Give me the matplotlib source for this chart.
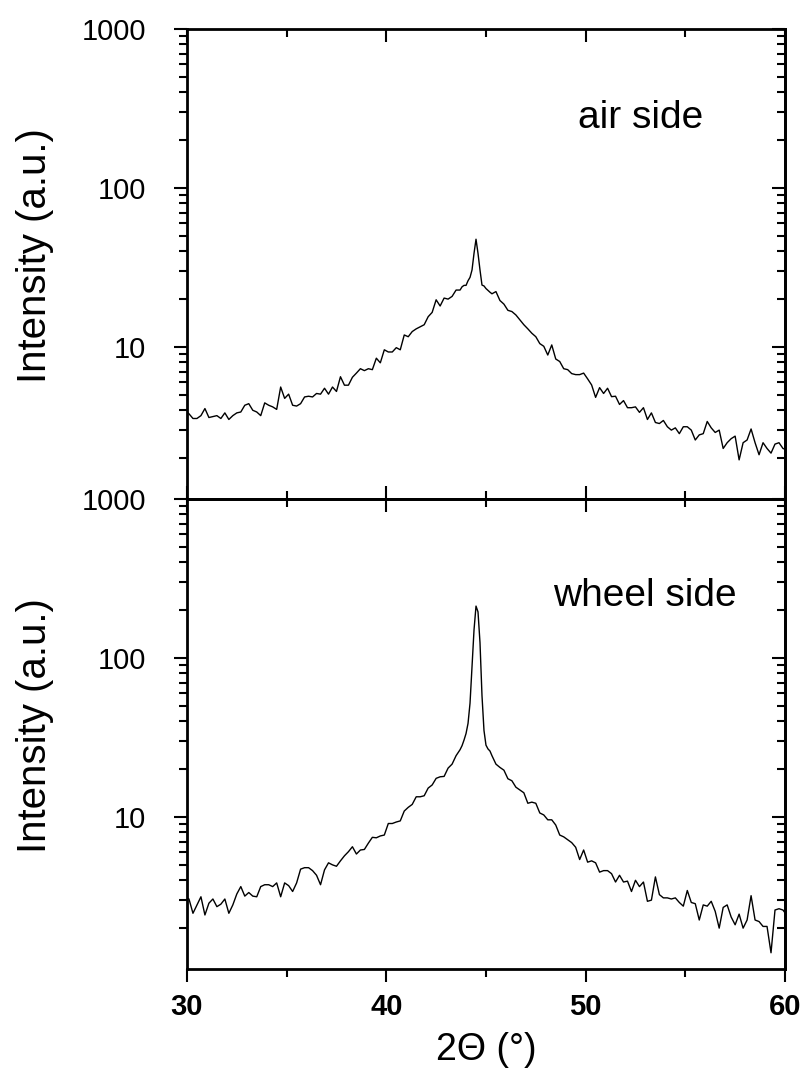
import numpy as np
import matplotlib
matplotlib.use('Agg')
import matplotlib.pyplot as plt
from matplotlib.ticker import LogLocator, MultipleLocator, NullFormatter

plt.rcParams['font.family'] = ['Liberation Sans', 'DejaVu Sans']

# 2-theta grid: 0.2 deg steps, 0.1 deg steps across the (110) peak
theta_lo = np.round(np.arange(29.9, 43.8, 0.2), 1)
theta_pk = np.round(np.arange(43.8, 45.25, 0.1), 1)
theta_hi = np.round(np.arange(45.3, 60.2, 0.2), 1)
two_theta = np.concatenate([theta_lo, theta_pk, theta_hi])

# air side intensities
air_lo = [4.0, 3.8, 3.55, 3.55, 3.7, 4.1, 3.6, 3.65, 3.7, 3.55, 3.85,
          3.5, 3.7, 3.85, 3.9, 4.3, 4.4, 4.0, 3.9, 3.7, 4.45,
          4.3, 4.2, 4.05, 5.6, 4.75, 5.05, 4.3, 4.25, 4.4, 4.85,
          4.9, 4.85, 5.1, 5.05, 5.5, 5.05, 5.6, 5.25, 6.5, 5.75,
          5.75, 6.45, 6.85, 7.3, 7.1, 7.3, 7.2, 8.5, 7.95, 9.6,
          9.3, 9.3, 9.9, 9.6, 11.9, 11.6, 12.5, 13.0, 13.4, 13.8,
          15.5, 16.5, 19.8, 18.1, 20.3, 20.0, 20.8, 22.8, 22.8]
air_pk = [23.9, 24.4, 24.4, 26.1, 27.4, 30.5, 38.8, 47.6, 38.8, 30.5,
          24.5, 24.2, 23.3, 22.7, 22.1]
air_hi = [21.6, 22.3, 19.6, 18.6,
          17.0, 16.7, 15.9, 14.8, 13.8, 13.0, 12.2, 11.6, 10.5, 10.1,
          8.9, 10.3, 8.4, 8.1, 7.3, 7.2, 6.8, 6.7, 6.7, 6.85,
          6.3, 5.77, 4.82, 5.55, 5.1, 5.5, 4.87, 4.9, 4.35, 4.6,
          4.15, 4.15, 4.2, 3.88, 4.15, 3.5, 3.85, 3.35, 3.3, 3.45,
          3.15, 3.0, 3.1, 2.85, 3.15, 3.15, 3.0, 2.6, 2.8, 2.85,
          3.4, 3.1, 2.9, 3.0, 2.3, 2.5, 2.65, 2.75, 1.95, 2.5,
          2.6, 3.05, 2.5, 2.1, 2.5, 2.3, 2.15, 2.45, 2.5, 2.3,
          2.25]

# wheel side intensities
wheel_lo = [3.15, 3.05, 2.48, 2.8, 3.15, 2.42, 2.87, 3.05, 2.73, 2.83, 3.05,
            2.48, 2.8, 3.28, 3.65, 3.18, 3.35, 3.18, 3.15, 3.65, 3.75,
            3.75, 3.65, 3.85, 3.15, 3.85, 3.7, 3.4, 3.85, 4.7, 4.8,
            4.8, 4.6, 4.3, 3.75, 4.65, 5.15, 5.0, 4.9, 5.3, 5.7,
            6.05, 6.5, 5.85, 6.2, 6.25, 6.85, 7.45, 7.4, 7.6, 7.7,
            9.1, 9.1, 9.3, 9.45, 10.9, 11.5, 12.0, 13.4, 13.4, 13.6,
            15.2, 15.9, 17.5, 17.9, 18.0, 20.3, 21.5, 24.3, 26.5]
wheel_pk = [28.1, 30.5, 33.5, 38.8, 52.0, 88.0, 150.0, 212.0, 195.0, 125.0,
            58.0, 35.0, 28.3, 26.8, 26.0]
wheel_hi = [24.3, 21.5, 20.5, 19.7,
            17.4, 16.9, 15.4, 14.8, 14.2, 12.2, 12.4, 12.2, 10.6, 10.3,
            9.6, 9.6, 8.9, 7.7, 7.5, 7.2, 6.9, 6.45, 5.4, 6.2,
            5.2, 5.3, 5.15, 4.5, 4.6, 4.6, 4.4, 3.9, 4.3, 3.9,
            3.95, 3.4, 4.0, 3.65, 3.9, 2.95, 3.0, 4.2, 3.25, 3.1,
            3.1, 3.05, 3.1, 2.9, 2.75, 3.45, 2.9, 2.85, 2.25, 2.8,
            2.75, 2.95, 2.55, 2.0, 2.7, 2.8, 2.35, 2.1, 2.45, 2.0,
            2.25, 3.2, 2.25, 2.2, 2.05, 2.05, 1.4, 2.6, 2.65, 2.6,
            2.4]

air_side = np.array(air_lo + air_pk + air_hi)
wheel_side = np.array(wheel_lo + wheel_pk + wheel_hi)

x_ticks = [30, 40, 50, 60]
x_tick_labels = ['30', '40', '50', '60']
y_ticks = [10, 100, 1000]
y_tick_labels = ['10', '100', '1000']

fig = plt.figure(figsize=(8.07, 10.84), dpi=100)
ax_top = fig.add_axes([0.2317, 0.5397, 0.741, 0.4336])
ax_bot = fig.add_axes([0.2317, 0.1061, 0.741, 0.4336])

spine_w = 2.0
tick_w = 1.5
maj_len = 9.5
min_len = 5.5

panels = [(ax_top, air_side, 'air side', (0.759, 0.789)),
          (ax_bot, wheel_side, 'wheel side', (0.766, 0.772))]

for ax, counts, name, pos in panels:
    ax.plot(two_theta, counts, color='black', lw=1.0)
    ax.set_yscale('log')
    ax.set_xlim(30, 60)
    ax.set_ylim(1.107, 1000)
    for sp in ax.spines.values():
        sp.set_linewidth(spine_w)

    # left axis: ticks outward with labels
    ax.set_yticks(y_ticks, labels=y_tick_labels)
    ax.yaxis.set_minor_locator(LogLocator(base=10, subs=np.arange(2, 10)))
    ax.yaxis.set_minor_formatter(NullFormatter())
    ax.tick_params(axis='y', which='both', direction='out', left=True,
                   right=False, width=tick_w, labelsize=21, pad=20)
    ax.tick_params(axis='y', which='major', length=maj_len)
    ax.tick_params(axis='y', which='minor', length=min_len)

    # right axis: ticks inward, no labels
    sy = ax.secondary_yaxis('right')
    sy.spines['right'].set_linewidth(spine_w)
    sy.set_yticks(y_ticks)
    sy.yaxis.set_minor_locator(LogLocator(base=10, subs=np.arange(2, 10)))
    sy.yaxis.set_minor_formatter(NullFormatter())
    sy.tick_params(which='both', direction='in', width=tick_w, labelright=False)
    sy.tick_params(which='major', length=maj_len)
    sy.tick_params(which='minor', length=min_len)

    ax.set_xticks(x_ticks)
    ax.xaxis.set_minor_locator(MultipleLocator(5))

    ax.text(pos[0], pos[1], name, transform=ax.transAxes, ha='center',
            va='baseline', fontsize=28)

    box = ax.get_position()
    fig.text(35 / 807, (box.y0 + box.y1) / 2 + 0.008, 'Intensity (a.u.)',
             rotation=90, ha='center', va='center', fontsize=29)

# top panel: x ticks inward on both edges, no labels
ax_top.tick_params(axis='x', which='both', direction='in', top=True,
                   bottom=True, labelbottom=False, width=tick_w)
ax_top.tick_params(axis='x', which='major', length=maj_len)
ax_top.tick_params(axis='x', which='minor', length=min_len)

# bottom panel: bottom ticks outward with bold labels, top ticks inward
ax_bot.set_xticks(x_ticks, labels=x_tick_labels, fontweight='bold', fontsize=21)
ax_bot.tick_params(axis='x', which='both', direction='out', top=False,
                   bottom=True, width=tick_w, pad=7.5)
ax_bot.tick_params(axis='x', which='major', length=maj_len)
ax_bot.tick_params(axis='x', which='minor', length=min_len)

sx = ax_bot.secondary_xaxis('top')
sx.spines['top'].set_linewidth(spine_w)
sx.set_xticks(x_ticks)
sx.xaxis.set_minor_locator(MultipleLocator(5))
sx.tick_params(which='both', direction='in', width=tick_w, labeltop=False)
sx.tick_params(which='major', length=maj_len)
sx.tick_params(which='minor', length=min_len)

fig.text(486 / 807, 1 - 1050 / 1084, '2\u0398 (\u00b0)', ha='center',
         va='center', fontsize=27)

fig.savefig('out.png', dpi=100)
